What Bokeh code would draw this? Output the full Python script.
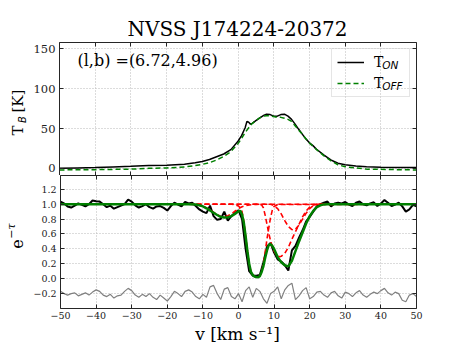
from math import pi
from bokeh.plotting import figure
from bokeh.models import (Range1d, LinearAxis, FixedTicker, Label, Legend, LegendItem,
                          CustomJSTickFormatter)
from bokeh.layouts import column, row
from bokeh.embed import file_html
from bokeh.resources import INLINE

# ---------------- data ----------------
title_text = "NVSS J174224-20372"
coord_text = "(l,b) =(6.72,4.96)"
xlabel_text = "v [km s\u207b\u00b9]"

xticks = [-50, -40, -30, -20, -10, 0, 10, 20, 30, 40, 50]
xtick_labels = ["\u221250", "\u221240", "\u221230", "\u221220", "\u221210", "0", "10", "20", "30", "40", "50"]
yticks_top = [0, 50, 100, 150]
ytick_labels_top = ["0", "50", "100", "150"]
yticks_bot = [-0.2, 0.0, 0.2, 0.4, 0.6, 0.8, 1.0, 1.2]
ytick_labels_bot = ["\u22120.2", "0.0", "0.2", "0.4", "0.6", "0.8", "1.0", "1.2"]

# emission: T_ON (black) and T_OFF (green dashed), K
v_on = [-50, -45, -40, -35, -30, -25, -20, -15, -12, -10, -8, -6, -4, -2, 0, 1, 2, 2.5, 3, 3.5, 4,
        5, 6, 7, 8, 9, 10, 11, 12, 13, 14, 15, 16, 17, 18, 19, 20, 21, 22,
        24, 26, 28, 30, 33, 36, 40, 45, 50]
t_on = [0, 0.5, 1, 1.8, 2.5, 3.5, 4, 5, 7, 8.5, 11, 14.5, 18, 23.5, 34, 41, 51, 59, 58, 55.5, 56.5,
        60, 63, 66, 68, 67.5, 65.5, 65.5, 67.5, 68, 65.5, 61.5, 55.5, 49, 43, 37, 32, 28.5, 24,
        17, 10.5, 6.5, 4.5, 3, 2, 1.3, 1, 1]
v_off = [-50, -40, -30, -25, -20, -15, -12, -10, -8, -6, -4, -2, 0,
         1, 2, 3, 4, 5, 6, 7, 8, 9, 10, 11, 12, 13, 14, 15, 16, 17, 18, 19, 20,
         22, 24, 26, 28, 30, 33, 36, 40, 45, 50]
t_off = [-2, -1.7, -1, 0, 0.5, 1.7, 3.5, 5, 7, 10.5, 15, 21, 31,
         37.5, 45, 51, 56.5, 60, 63, 65.5, 66, 66, 65, 64, 64, 63, 61.5, 59, 53.5, 48, 43, 37, 32,
         23.5, 16, 9.5, 4.5, 2, 0.5, -1, -1.3, -1.7, -2]

# absorption e^-tau (black), 1 km/s channels from -50 to 50
v_abs = list(range(-50, 51))
abs_on = [1.035, 1.01, 0.97, 0.955, 0.98, 1.01, 0.99, 0.97, 1.0, 1.05,
          1.04, 1.035, 1.0, 0.96, 0.98, 0.94, 0.96, 0.98, 1.0, 1.06,
          1.035, 0.985, 0.955, 0.975, 1.0, 0.96, 0.94, 0.97, 0.975, 0.95,
          0.915, 0.975, 1.02, 0.995, 0.97, 1.03, 1.01, 1.02, 0.975, 0.93,
          0.90, 0.88, 0.98, 0.84, 0.79, 0.80, 0.90, 0.78, 0.84, 0.88,
          0.92, 0.80, 0.40, 0.10, 0.04, 0.04, 0.05, 0.22, 0.43, 0.48,
          0.35, 0.26, 0.23, 0.18, 0.11, 0.38, 0.44, 0.55, 0.65, 0.77,
          0.83, 0.90, 0.97, 1.0, 1.02, 1.035, 0.97, 1.01, 1.02, 1.01,
          1.03, 0.995, 0.975, 1.02, 1.035, 1.0, 0.985, 1.01, 1.025, 0.975,
          1.01, 1.055, 1.02, 0.975, 0.995, 1.02, 0.97, 0.90, 0.93, 0.99, 0.97]
# residuals (offset to -0.2), grey
resid = [-0.17, -0.20, -0.22, -0.20, -0.19, -0.23, -0.21, -0.19, -0.22, -0.18,
         -0.15, -0.17, -0.22, -0.24, -0.21, -0.26, -0.23, -0.22, -0.17, -0.13,
         -0.16, -0.22, -0.25, -0.21, -0.24, -0.20, -0.25, -0.28, -0.22, -0.26,
         -0.30, -0.24, -0.17, -0.20, -0.24, -0.17, -0.15, -0.18, -0.24, -0.27,
         -0.21, -0.25, -0.11, -0.09, -0.20, -0.28, -0.14, -0.12, -0.24, -0.27,
         -0.20, -0.31, -0.16, -0.11, -0.25, -0.13, -0.17, -0.27, -0.33, -0.20,
         -0.17, -0.11, -0.27, -0.15, -0.09, -0.06, -0.28, -0.23, -0.16, -0.12,
         -0.27, -0.24, -0.18, -0.17, -0.22, -0.25, -0.19, -0.17, -0.23, -0.26,
         -0.18, -0.20, -0.24, -0.19, -0.16, -0.22, -0.25, -0.21, -0.18, -0.20,
         -0.16, -0.13, -0.19, -0.22, -0.18, -0.20, -0.29, -0.31, -0.22, -0.20, -0.24]

# total fit (green)
v_fit = [-50, -14, -12, -11, -10, -9, -8, -7, -6, -5, -4, -3, -2, -1, 0,
         0.5, 1, 1.5, 2, 2.5, 3, 3.5, 4, 4.5, 5, 5.5, 6, 6.5, 7, 7.5, 8, 8.5, 9, 9.5, 10,
         11, 12, 13, 14, 15, 16, 17, 18, 19, 20, 21, 22, 23, 24, 25, 50]
fit = [1.0, 1.0, 0.995, 0.985, 0.97, 0.945, 0.915, 0.885, 0.855, 0.83, 0.82, 0.825, 0.84, 0.87, 0.905,
       0.91, 0.86, 0.75, 0.57, 0.37, 0.2, 0.09, 0.05, 0.03, 0.022, 0.02, 0.035, 0.09, 0.17, 0.28, 0.38, 0.45, 0.465, 0.44, 0.40,
       0.29, 0.22, 0.18, 0.165, 0.24, 0.37, 0.50, 0.62, 0.74, 0.84, 0.91, 0.96, 0.985, 0.997, 1.0, 1.0]

# individual Gaussian components (red dashed)
v_c1 = [-50, -14, -12, -10, -8, -6, -5, -4.5, -4, -3, -2, -1, 0, 1, 2, 3, 5, 7, 50]
c1 = [1, 1, 0.995, 0.975, 0.925, 0.86, 0.835, 0.828, 0.83, 0.845, 0.87, 0.905, 0.94, 0.965, 0.98, 0.99, 0.998, 1, 1]
v_c2 = [-50, -2, -1, 0, 0.5, 1, 1.5, 2, 2.5, 3, 3.5, 4, 4.5, 5, 5.5, 6, 6.5, 7, 7.5, 8, 8.5, 9, 9.5, 10, 11, 50]
c2 = [1, 1, 0.995, 0.975, 0.95, 0.9, 0.77, 0.58, 0.38, 0.2, 0.095, 0.05, 0.03, 0.022, 0.02, 0.036, 0.09, 0.2,
      0.36, 0.53, 0.68, 0.82, 0.92, 0.97, 0.995, 1]
v_c3 = [-50, 6, 6.5, 7, 7.5, 8, 8.5, 9, 9.5, 10, 10.5, 11, 11.6, 12, 13, 14, 15, 16, 17, 18, 19, 20, 21, 22, 50]
c3 = [1, 1, 0.99, 0.95, 0.85, 0.73, 0.61, 0.51, 0.43, 0.37, 0.33, 0.305, 0.295, 0.30, 0.34, 0.42, 0.53, 0.63,
      0.73, 0.83, 0.91, 0.96, 0.99, 1, 1]
v_c4 = [-50, 9, 10, 11, 12, 13, 14, 15, 15.5, 16, 17, 18, 19, 20, 21, 22, 23, 50]
c4 = [1, 1, 0.98, 0.94, 0.87, 0.78, 0.70, 0.66, 0.655, 0.665, 0.72, 0.80, 0.88, 0.94, 0.98, 0.995, 1, 1]

# ---------------- styling ----------------
SERIF = "DejaVu Serif"
SANS = "DejaVu Sans"
AX = "#262626"
GRID = "#b8b8b8"
YLW = 30                 # width of the y-label strip
LEFT, RIGHT = 28, 39     # borders of the data figures
FRAME_W, FRAME_H = 358, 133
PW = LEFT + FRAME_W + RIGHT
TOTAL_W = YLW + PW
TITLE_H = 42
P2_BOTTOM = 14


def fmt(tick_values, tick_texts):
    return CustomJSTickFormatter(args=dict(tv=tick_values, tt=tick_texts), code="""
        for (let i = 0; i < tv.length; i++) {
            if (Math.abs(tv[i] - tick) < 1e-9) { return tt[i]; }
        }
        return '';
    """)


def text_fig(w, h):
    f = figure(width=w, height=h, output_backend="svg", toolbar_location=None,
               x_range=Range1d(0, w), y_range=Range1d(0, h),
               x_axis_location=None, y_axis_location=None, min_border=0)
    f.outline_line_color = None
    f.grid.visible = False
    f.background_fill_color = "white"
    f.border_fill_color = "white"
    return f


def lab(f, x, y, text, size, font=SERIF, style="normal", angle=0.0, align="left",
        color="black", level="annotation"):
    f.add_layout(Label(x=x, y=y, text=text, angle=angle, text_font=font, text_font_style=style,
                       text_font_size=size, text_align=align, text_baseline="middle",
                       text_color=color, level=level))


def hide_labels(ax):
    ax.major_label_text_font_size = "0px"
    ax.major_label_text_color = None
    ax.major_label_standoff = 0


def dress(p, yt, ylabels, yfs, show_x):
    xt = FixedTicker(ticks=xticks)
    ytk = FixedTicker(ticks=yt)
    for ax in p.xaxis:
        ax.ticker = xt
        ax.formatter = fmt(xticks, xtick_labels)
    for ax in p.yaxis:
        ax.ticker = ytk
        ax.formatter = fmt(yt, ylabels)
    top = LinearAxis(ticker=xt)
    right = LinearAxis(ticker=ytk)
    p.add_layout(top, "above")
    p.add_layout(right, "right")
    for ax in list(p.xaxis) + list(p.yaxis):
        ax.axis_line_color = AX
        ax.axis_line_width = 1
        ax.major_tick_line_color = AX
        ax.major_tick_in = 4
        ax.major_tick_out = 0
        ax.minor_tick_line_color = None
        ax.major_label_text_font = SERIF
        ax.major_label_text_color = "#222222"
    hide_labels(top)
    hide_labels(right)
    p.yaxis[0].major_label_text_font_size = yfs
    p.yaxis[0].major_label_standoff = 4
    bx = p.below[0]
    if show_x:
        bx.major_label_text_font_size = "9.5px"
        bx.major_label_standoff = 3
    else:
        hide_labels(bx)
    p.xgrid.ticker = xt
    p.ygrid.ticker = ytk
    for g in [p.xgrid[0], p.ygrid[0]]:
        g.grid_line_color = GRID
        g.grid_line_dash = "1 2"
        g.grid_line_width = 1
    p.outline_line_color = None
    p.background_fill_color = "white"
    p.border_fill_color = "white"


# ---------------- title strip ----------------
t_fig = text_fig(TOTAL_W, TITLE_H)
lab(t_fig, YLW + LEFT + FRAME_W / 2, 14, title_text, "20px", align="center")

# ---------------- top panel ----------------
p1 = figure(width=PW, height=FRAME_H, output_backend="svg", toolbar_location=None,
            x_range=Range1d(-50, 50), y_range=Range1d(-9, 158),
            min_border_left=LEFT, min_border_right=RIGHT, min_border_top=0, min_border_bottom=0)
dress(p1, yticks_top, ytick_labels_top, "11.5px", False)

r_on = p1.line(v_on, t_on, line_color="black", line_width=1.5)
r_off = p1.line(v_off, t_off, line_color="#008000", line_width=1.5, line_dash="5 3")

legend = Legend(items=[LegendItem(label=dict(value="T"), renderers=[r_on]),
                       LegendItem(label=dict(value="T"), renderers=[r_off])],
                location="top_right", margin=6, padding=5, spacing=5,
                glyph_width=27, glyph_height=16, label_height=16, label_width=30,
                label_standoff=10, label_text_font=SERIF, label_text_font_size="14px",
                label_text_color="black",
                border_line_color="#cccccc", border_line_width=1, background_fill_alpha=0.0)
p1.add_layout(legend, "center")

lab(p1, -44.97, 136.0, coord_text, "16px")
lab(p1, 40.4, 130.0, "ON", "10.5px", font=SANS, style="italic", level="overlay")
lab(p1, 40.4, 103.0, "OFF", "10.5px", font=SANS, style="italic", level="overlay")

yl1 = text_fig(YLW, FRAME_H)
lab(yl1, 17.8, 40, "T", "15px", angle=pi / 2)
lab(yl1, 22.0, 52.5, "B", "10px", font=SANS, style="italic", angle=pi / 2)
lab(yl1, 17.8, 63, "[K]", "15px", angle=pi / 2)

# ---------------- bottom panel ----------------
P2H = FRAME_H + P2_BOTTOM
p2 = figure(width=PW, height=P2H, output_backend="svg", toolbar_location=None,
            x_range=p1.x_range, y_range=Range1d(-0.4, 1.385),
            min_border_left=LEFT, min_border_right=RIGHT, min_border_top=0, min_border_bottom=P2_BOTTOM)
dress(p2, yticks_bot, ytick_labels_bot, "9.5px", True)

p2.line(v_abs, abs_on, line_color="black", line_width=2)
for vv, cc in [(v_c1, c1), (v_c2, c2), (v_c3, c3), (v_c4, c4)]:
    p2.line(vv, cc, line_color="#ff0000", line_width=1.6, line_dash="5 3")
p2.line(v_fit, fit, line_color="#008000", line_width=2.5)
p2.line(v_abs, resid, line_color="#808080", line_width=1.2)

yl2 = text_fig(YLW, P2H)
lab(yl2, 16.5, P2H - 81, "e", "16px", angle=pi / 2)
lab(yl2, 10.7, P2H - 70, "\u2212\u03c4", "11px", style="italic", angle=pi / 2)

# ---------------- x label strip ----------------
XLH = 347 - TITLE_H - FRAME_H - P2H
x_fig = text_fig(TOTAL_W, XLH)
lab(x_fig, YLW + LEFT + FRAME_W / 2, XLH - 11, xlabel_text, "17px", align="center")

layout = column(t_fig, row(yl1, p1, spacing=0), row(yl2, p2, spacing=0), x_fig, spacing=0)
open("out.html", "w").write(file_html(layout, INLINE))
